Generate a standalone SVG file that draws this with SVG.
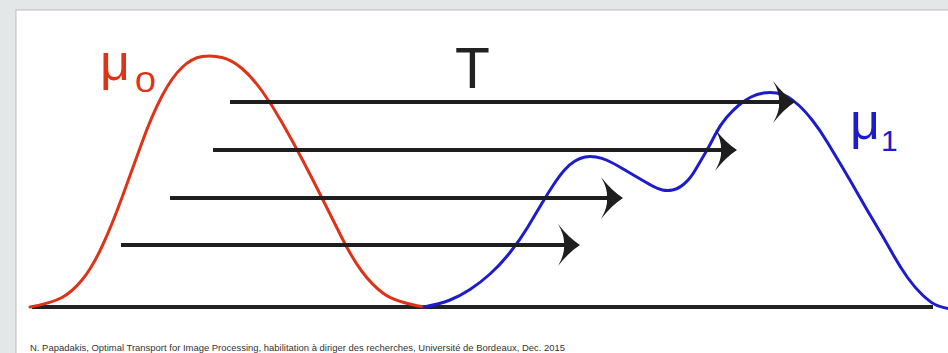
<svg xmlns="http://www.w3.org/2000/svg" xmlns:xlink="http://www.w3.org/1999/xlink" width="948" height="353" viewBox="0 0 948 353">
<style>
.arrowline{stroke:#1e1e1e;stroke-width:4;fill:none;stroke-linecap:butt}
.head{fill:#1e1e1e}
.red{stroke:#dc3418;stroke-width:3;fill:none;stroke-linecap:round;stroke-linejoin:round}
.blue{stroke:#1c1ccc;stroke-width:3;fill:none;stroke-linecap:round;stroke-linejoin:round}
.lbl{font-family:"Liberation Sans",Arial,sans-serif}
</style>
<defs>
<path id="ah" class="head" d="M0,0 Q-11,-7 -22,-21 Q-15,-9 -16,0 Q-15,9 -22,21 Q-11,7 0,0 Z"/>
</defs>
<rect x="0" y="0" width="948" height="353" fill="#e3e7e7"/>
<rect x="16" y="10" width="940" height="350" fill="#ffffff" stroke="#bdbdbd" stroke-width="1"/>

<g id="baseline">
<line x1="32" y1="307" x2="933" y2="307" stroke="#222" stroke-width="4"/>
</g>

<g id="mu0">
<path class="red" d="M30,307 Q52,303 62,297.5 Q72,292 82,280 Q92,268 102,246.5 Q112,225 122,197.5 Q132,170 142,142.5 Q152,115 162,96 Q172,77 182,67.5 Q192,58 202,56.5 Q212,55 222,57.5 Q232,60 242,68.5 Q252,77 262,91 Q272,105 282,122.5 Q292,140 302,159 Q312,178 322,198 Q332,218 342,238 Q352,258 362,271.5 Q372,285 383.5,293.5 Q395,302 424,307"/>
<text class="lbl" x="100" y="80" font-size="52" fill="#dc3418">μ</text>
<text class="lbl" transform="translate(135,92) scale(1.3,1)" font-size="29" fill="#dc3418">0</text>
</g>

<g id="mu1">
<path class="blue" d="M424,307 Q440,304 450,300 Q460,296 470,289.5 Q480,283 490,274 Q500,265 510,252.5 Q520,240 527.5,227.5 Q535,215 541.5,204 Q548,193 554,184 Q560,175 565,169.5 Q570,164 575,161 Q580,158 585,157 Q590,156 596,157 Q602,158 607.5,160.5 Q613,163 621.5,168 Q630,173 638.5,178 Q647,183 652.5,186 Q658,189 662.5,190 Q667,191 672.5,190 Q678,189 684,184 Q690,179 695,170.5 Q700,162 705,153.5 Q710,145 715,135 Q720,125 726.5,117.5 Q733,110 739,105 Q745,100 751,97 Q757,94 763.5,93 Q770,92 776.5,93 Q783,94 788,97 Q793,100 799,105.5 Q805,111 812.5,120.5 Q820,130 827.5,142.5 Q835,155 842.5,167.5 Q850,180 858.5,195 Q867,210 876,225 Q885,240 892.5,253.5 Q900,267 907.5,277.5 Q915,288 922.5,295 Q930,302 935,304.5 Q940,307 950,309"/>
<text class="lbl" x="850" y="139" font-size="52" fill="#1c1ccc">μ</text>
<text class="lbl" x="881" y="151" font-size="30" fill="#1c1ccc">1</text>
</g>

<g id="T-label">
<text class="lbl" x="455" y="88" font-size="57" fill="#222">T</text>
</g>

<g id="connectors">
<line class="arrowline" x1="230" y1="102" x2="781" y2="102"/>
<use xlink:href="#ah" x="795" y="102"/>
<line class="arrowline" x1="213" y1="150" x2="723" y2="150"/>
<use xlink:href="#ah" x="737" y="150"/>
<line class="arrowline" x1="170" y1="198" x2="609" y2="198"/>
<use xlink:href="#ah" x="623" y="198"/>
<line class="arrowline" x1="121" y1="245" x2="566" y2="245"/>
<use xlink:href="#ah" x="580" y="245"/>
</g>

<g id="caption">
<text class="lbl" x="30" y="351" font-size="9.5" fill="#333" textLength="535" lengthAdjust="spacingAndGlyphs">N. Papadakis, Optimal Transport for Image Processing, habilitation à diriger des recherches, Université de Bordeaux, Dec. 2015</text>
</g>
</svg>
